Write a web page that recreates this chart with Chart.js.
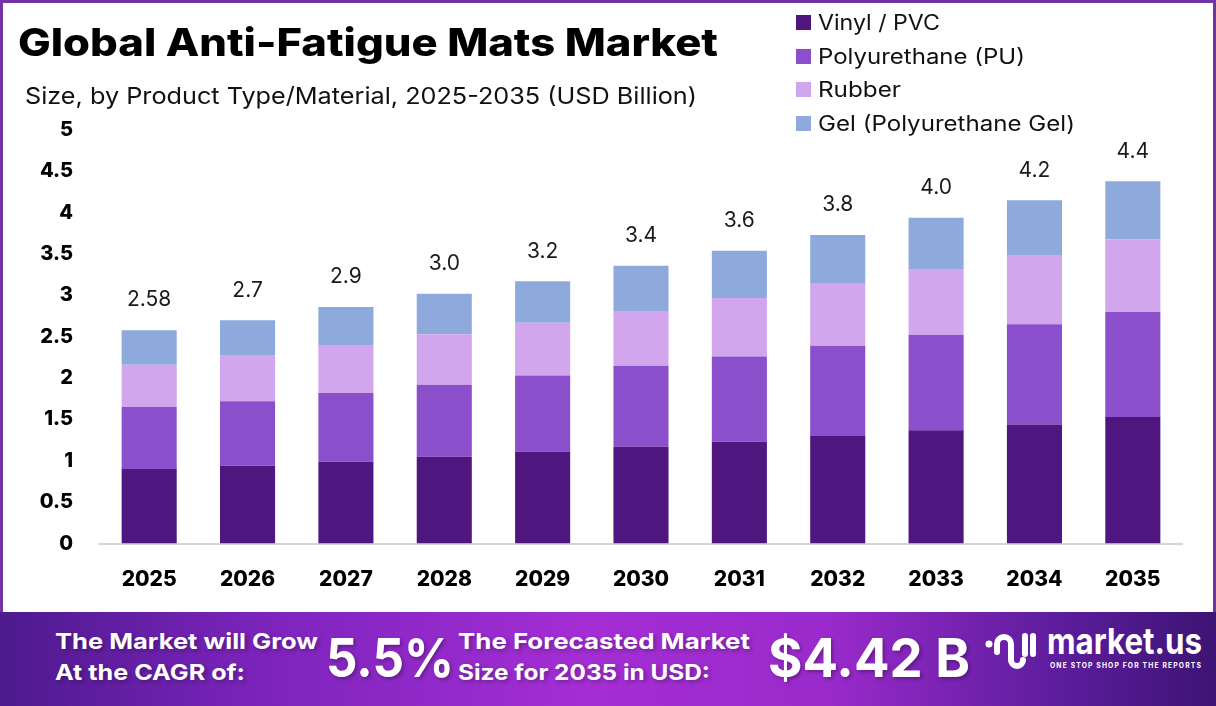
<!DOCTYPE html>
<html>
<head>
<meta charset="utf-8">
<script src="https://cdn.jsdelivr.net/npm/chart.js@4.4.0/dist/chart.umd.min.js"></script>
<style>
    html, body { margin: 0; padding: 0; }
    body { width: 1216px; height: 706px; position: relative; overflow: hidden; background: #fff; font-family: Inter, "Open Sans", sans-serif; }
    #frame { position: absolute; left: 0; top: 0; width: 1210px; height: 612px; border: 3px solid #7232a8; border-bottom: none; }
    #chartBox { position: absolute; left: 0; top: 0; width: 1216px; height: 612px; }
    .txt { position: absolute; white-space: nowrap; transform-origin: left center; }
    #title { left: 18px; top: 22px; font-size: 38px; font-weight: 800; color: #000; line-height: 40px; }
    #subtitle { left: 25px; top: 82px; font-size: 23px; font-weight: 400; color: #111; line-height: 28px; }
    #legend { position: absolute; left: 796px; top: 6px; }
    .legItem { display: flex; align-items: center; height: 33.6px; }
    .legBox { width: 15px; height: 15px; margin-right: 7px; }
    .legText { font-size: 21px; color: #111; white-space: nowrap; transform-origin: left center; }
    #footer { position: absolute; left: 0; top: 612px; width: 1216px; height: 94px;
        background: linear-gradient(90deg, #4d1a8e 0%, #7d24bd 22%, #a42ed4 48%, #9a2acc 68%, #5a1c9a 88%, #3d1474 100%); }
    .ft { position: absolute; color: #fff; font-weight: 700; white-space: nowrap; transform-origin: left center; text-shadow: 2px 2px 4px rgba(0,0,0,0.3); }
</style>
</head>
<body>
<div id="frame"></div>
<div id="chartBox"><canvas id="chartMats" width="1216" height="612"></canvas></div>
<div id="title" class="txt">Global Anti-Fatigue Mats Market</div>
<div id="subtitle" class="txt">Size, by Product Type/Material, 2025-2035 (USD Billion)</div>
<div id="legend"></div>
<div id="footer">
    <div class="ft" id="f1" style="left:55px; top:16px; font-size:22px;">The Market will Grow</div>
    <div class="ft" id="f2" style="left:55px; top:47px; font-size:22px;">At the CAGR of:</div>
    <div class="ft" id="f3" style="left:326px; top:14px; font-size:54px; line-height:64px;">5.5%</div>
    <div class="ft" id="f4" style="left:458px; top:16px; font-size:22px;">The Forecasted Market</div>
    <div class="ft" id="f5" style="left:458px; top:47px; font-size:22px;">Size for 2035 in USD:</div>
    <div class="ft" id="f6" style="left:768px; top:14px; font-size:54px; line-height:64px;">$4.42 B</div>
    <svg style="position:absolute; left:985px; top:18px;" width="52" height="40" viewBox="0 0 52 40">
        <circle cx="4" cy="14" r="3.5" fill="#fff"/>
        <path d="M12 22 V14 a7 7 0 0 1 14 0 V30 a6 6 0 0 0 12 0" stroke="#fff" stroke-width="6" fill="none" stroke-linecap="round"/>
        <path d="M40 6 V24 M48 6 V24" stroke="#fff" stroke-width="6" fill="none" stroke-linecap="round"/>
    </svg>
    <div class="ft" id="f7" style="left:1047px; top:8px; font-size:36px; line-height:42px; text-shadow:none;">market.us</div>
    <div class="ft" id="f8" style="left:1050px; top:49px; font-size:7px; letter-spacing:1.2px; text-shadow:none;">ONE STOP SHOP FOR THE REPORTS</div>
</div>

<script>
// Datos del gráfico
var years = ["2025", "2026", "2027", "2028", "2029", "2030", "2031", "2032", "2033", "2034", "2035"];
var vinyl = [0.90, 0.94, 0.99, 1.05, 1.11, 1.17, 1.23, 1.30, 1.37, 1.44, 1.53];
var polyurethane = [0.75, 0.78, 0.83, 0.87, 0.92, 0.98, 1.03, 1.09, 1.15, 1.21, 1.27];
var rubber = [0.51, 0.55, 0.58, 0.61, 0.64, 0.66, 0.71, 0.75, 0.79, 0.84, 0.88];
var gel = [0.42, 0.43, 0.46, 0.49, 0.50, 0.55, 0.57, 0.59, 0.63, 0.66, 0.70];
var totalLabels = ["2.58", "2.7", "2.9", "3.0", "3.2", "3.4", "3.6", "3.8", "4.0", "4.2", "4.4"];
var seriesNames = ["Vinyl / PVC", "Polyurethane (PU)", "Rubber", "Gel (Polyurethane Gel)"];
var seriesColors = ["#4f1680", "#8b4fcc", "#d2a6ec", "#8eaadc"];

// Etiquetas de totales sobre cada barra
var totalsPlugin = {
    id: "totals",
    afterDatasetsDraw: function (chart) {
        var ctx = chart.ctx;
        var last = chart.getDatasetMeta(chart.data.datasets.length - 1);
        ctx.save();
        ctx.font = "400 21px Inter, 'Open Sans', sans-serif";
        ctx.fillStyle = "#1a1a1a";
        ctx.textAlign = "center";
        ctx.textBaseline = "middle";
        last.data.forEach(function (bar, i) {
            ctx.fillText(totalLabels[i], bar.x, bar.y - 30);
        });
        ctx.restore();
    }
};

var datasets = [vinyl, polyurethane, rubber, gel].map(function (vals, i) {
    return {
        label: seriesNames[i],
        data: vals,
        backgroundColor: seriesColors[i],
        borderWidth: 0,
        barPercentage: 0.56,
        categoryPercentage: 1.0
    };
});

new Chart(document.getElementById("chartMats"), {
    type: "bar",
    data: { labels: years, datasets: datasets },
    plugins: [totalsPlugin],
    options: {
        responsive: false,
        animation: false,
        layout: { padding: { top: 130, right: 34, left: 0, bottom: 0 } },
        plugins: { legend: { display: false }, tooltip: { enabled: false } },
        scales: {
            x: {
                stacked: true,
                grid: { display: false, drawTicks: false },
                border: { display: true, color: "#d6d6d6", width: 2 },
                ticks: { color: "#000", font: { family: "Inter, 'Open Sans', sans-serif", size: 21, weight: "800" }, padding: 24 },
                afterFit: function (s) { s.height = 68.5; }
            },
            y: {
                stacked: true,
                min: 0,
                max: 5,
                grid: { display: false, drawTicks: false },
                border: { display: false },
                ticks: {
                    stepSize: 0.5,
                    color: "#000",
                    font: { family: "Inter, 'Open Sans', sans-serif", size: 20, weight: "800" },
                    padding: 27,
                    callback: function (v) { return String(v); }
                },
                afterFit: function (s) { s.width = 100; }
            }
        }
    }
});

// Leyenda en HTML
var legend = document.getElementById("legend");
seriesNames.forEach(function (name, i) {
    var row = document.createElement("div");
    row.className = "legItem";
    row.innerHTML = '<div class="legBox" style="background:' + seriesColors[i] + '"></div><div class="legText">' + name + '</div>';
    legend.appendChild(row);
});

// Ajustar anchos de texto al original
function fitWidth(el, w) {
    var cur = el.getBoundingClientRect().width;
    if (cur > 0) el.style.transform = "scaleX(" + (w / cur) + ")";
}
fitWidth(document.getElementById("title"), 700);
fitWidth(document.getElementById("subtitle"), 672);
var legWidths = [122, 207, 83, 257];
document.querySelectorAll(".legText").forEach(function (el, i) { fitWidth(el, legWidths[i]); });
fitWidth(document.getElementById("f1"), 263);
fitWidth(document.getElementById("f2"), 190);
fitWidth(document.getElementById("f3"), 128);
fitWidth(document.getElementById("f4"), 292);
fitWidth(document.getElementById("f5"), 252);
fitWidth(document.getElementById("f6"), 202);
fitWidth(document.getElementById("f7"), 155);
fitWidth(document.getElementById("f8"), 152);
</script>
</body>
</html>
